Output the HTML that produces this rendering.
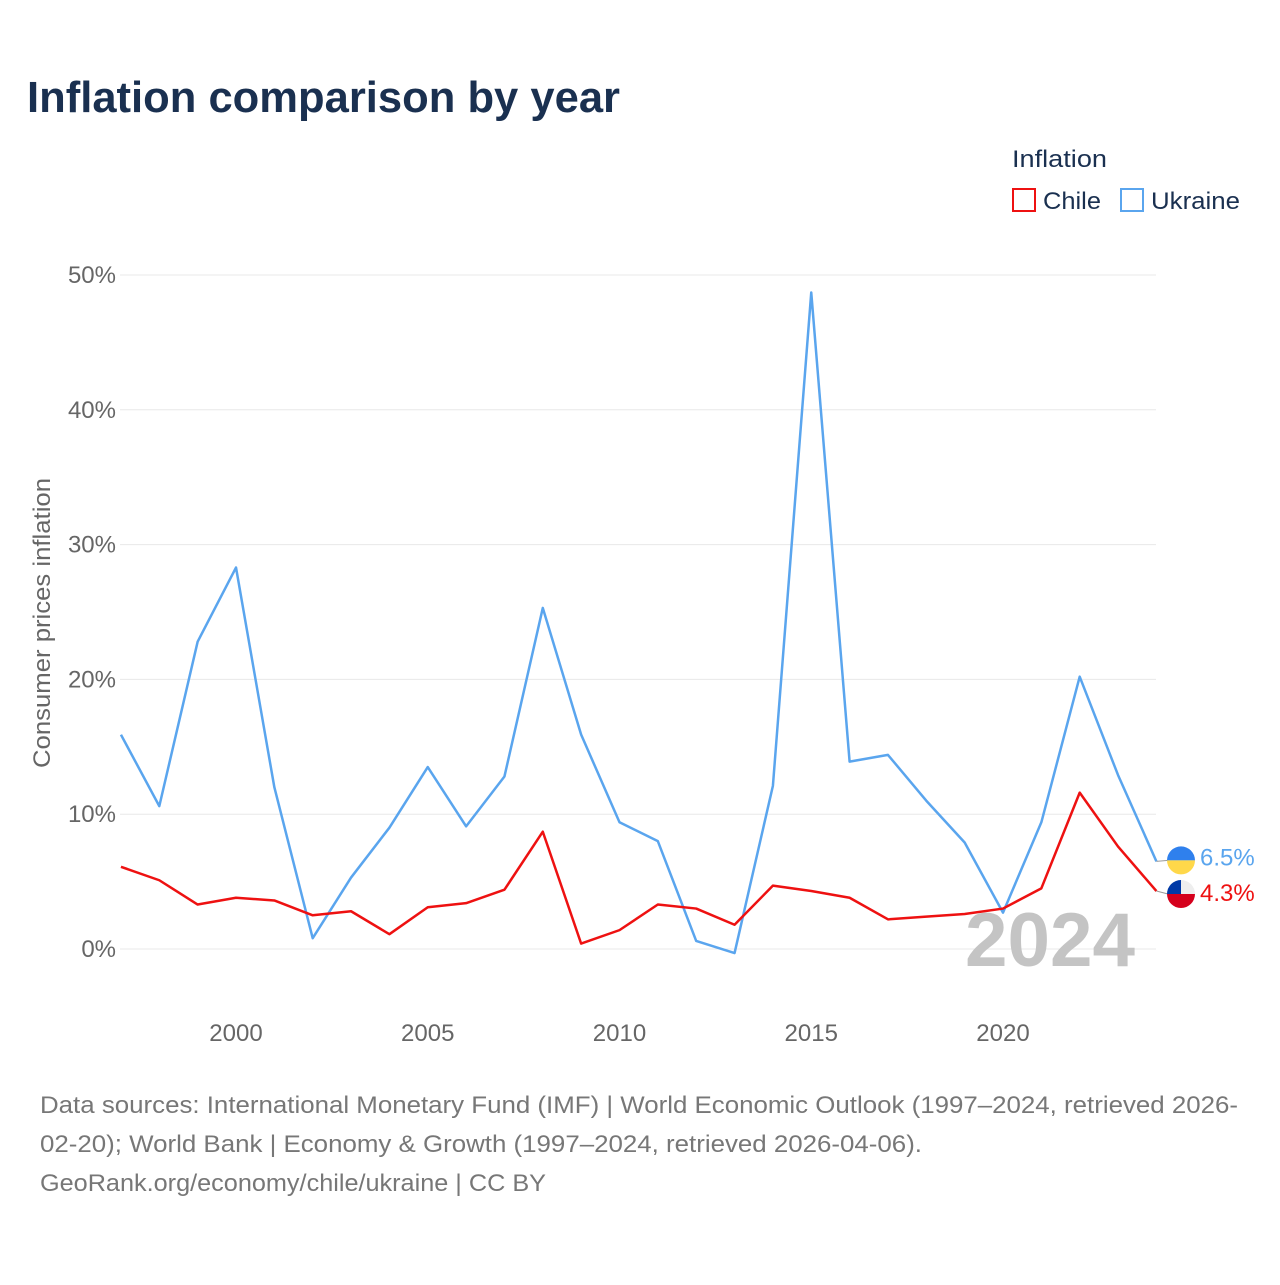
<!DOCTYPE html>
<html><head><meta charset="utf-8"><style>
body{margin:0;background:#fff;font-family:"Liberation Sans",sans-serif;}
</style></head><body>
<svg width="1280" height="1280" viewBox="0 0 1280 1280" xmlns="http://www.w3.org/2000/svg" font-family="Liberation Sans, sans-serif">
<rect width="1280" height="1280" fill="#fff"/>
<text x="27" y="112" font-size="44" font-weight="bold" fill="#1a3050" textLength="593" lengthAdjust="spacingAndGlyphs">Inflation comparison by year</text>
<text x="1012" y="167" font-size="24" fill="#1a3050" textLength="95" lengthAdjust="spacingAndGlyphs">Inflation</text>
<g><rect x="1013" y="189" width="22" height="22" fill="none" stroke="#ee1111" stroke-width="2"/><text x="1043" y="209" font-size="24" fill="#1a3050" textLength="58" lengthAdjust="spacingAndGlyphs">Chile</text></g>
<g><rect x="1121" y="189" width="22" height="22" fill="none" stroke="#5aa5ee" stroke-width="2"/><text x="1151" y="209" font-size="24" fill="#1a3050" textLength="89" lengthAdjust="spacingAndGlyphs">Ukraine</text></g>
<g id="grid"></g>
<g id="yt"></g>
<g id="xt"></g>
<text transform="translate(50,623) rotate(-90)" text-anchor="middle" font-size="24" fill="#666" textLength="290" lengthAdjust="spacingAndGlyphs">Consumer prices inflation</text>
<text x="1135" y="966" text-anchor="end" font-size="76" font-weight="bold" fill="#c4c4c4" textLength="170" lengthAdjust="spacingAndGlyphs">2024</text>
<g id="series"></g>
<text x="40" y="1113" font-size="24" fill="#777" textLength="1198" lengthAdjust="spacingAndGlyphs">Data sources: International Monetary Fund (IMF) | World Economic Outlook (1997–2024, retrieved 2026-</text>
<text x="40" y="1152" font-size="24" fill="#777" textLength="882" lengthAdjust="spacingAndGlyphs">02-20); World Bank | Economy &amp; Growth (1997–2024, retrieved 2026-04-06).</text>
<text x="40" y="1191" font-size="24" fill="#777" textLength="506" lengthAdjust="spacingAndGlyphs">GeoRank.org/economy/chile/ukraine | CC BY</text>
</svg>
<script>
const years=[1997,1998,1999,2000,2001,2002,2003,2004,2005,2006,2007,2008,2009,2010,2011,2012,2013,2014,2015,2016,2017,2018,2019,2020,2021,2022,2023,2024];
const ukraine=[15.9,10.6,22.8,28.3,12.0,0.8,5.3,9.0,13.5,9.1,12.8,25.3,15.9,9.4,8.0,0.6,-0.3,12.1,48.7,13.9,14.4,11.0,7.9,2.7,9.4,20.2,12.9,6.5];
const chile=[6.1,5.1,3.3,3.8,3.6,2.5,2.8,1.1,3.1,3.4,4.4,8.7,0.4,1.4,3.3,3.0,1.8,4.7,4.3,3.8,2.2,2.4,2.6,3.0,4.5,11.6,7.6,4.3];
const yTicks=[0,10,20,30,40,50];
const xTicks=[2000,2005,2010,2015,2020];
const NS='http://www.w3.org/2000/svg';
const X=y=>236+(y-2000)*(1003-236)/20;
const Y=v=>949-v*(949-275)/50;
function mk(t,a,p){const e=document.createElementNS(NS,t);for(const k in a)e.setAttribute(k,a[k]);p.appendChild(e);return e;}
const g=document.getElementById('grid'),yt=document.getElementById('yt'),xt=document.getElementById('xt'),s=document.getElementById('series');
yTicks.forEach(v=>{
 const l=mk('line',{x1:120,x2:1156,y1:Y(v),y2:Y(v),stroke:'#e8e8e8','stroke-width':1},g);
 
 
 const t=mk('text',{x:116,y:Y(v)+8,'text-anchor':'end','font-size':24,fill:'#666'},yt);t.textContent=v+'%';
 
 
});
xTicks.forEach(v=>{
 const t=mk('text',{x:X(v),y:1041,'text-anchor':'middle','font-size':24,fill:'#666'},xt);t.textContent=v;
 
 
});
function line(d,c,n){
 const p=mk('polyline',{points:d.map((v,i)=>X(years[i])+','+Y(v)).join(' '),fill:'none',stroke:c,'stroke-width':2.5,'stroke-linejoin':'round'},s);
 
 
}
line(ukraine,'#5aa5ee','line-ukraine');
line(chile,'#ee1111','line-chile');
const last=years.length-1;
const uy=Y(ukraine[last]),cy=Y(chile[last]);
const fu=mk('g',{},s);


mk('line',{x1:X(years[last]),x2:1168,y1:uy,y2:uy-1,stroke:'#999'},fu);
mk('path',{d:`M1167,${uy-1} a14,14 0 0 1 28,0 z`,fill:'#2f80ed'},fu);
mk('path',{d:`M1167,${uy-1} a14,14 0 0 0 28,0 z`,fill:'#ffd84a'},fu);
const tu=mk('text',{x:1200,y:uy+4,'font-size':24,fill:'#5aa5ee'},fu);tu.textContent=ukraine[last]+'%';
const fc=mk('g',{},s);


const cc=cy+3;
mk('line',{x1:X(years[last]),x2:1168,y1:cy,y2:cc,stroke:'#999'},fc);
mk('path',{d:`M1167,${cc} a14,14 0 0 1 28,0 z`,fill:'#eee'},fc);
mk('path',{d:`M1167,${cc} a14,14 0 0 0 28,0 z`,fill:'#d5001c'},fc);
mk('path',{d:`M1167,${cc} a14,14 0 0 1 14,-14 v14 z`,fill:'#0039a6'},fc);
const tc=mk('text',{x:1200,y:cc+7,'font-size':24,fill:'#ee1111'},fc);tc.textContent=chile[last]+'%';
</script>
</body></html>
